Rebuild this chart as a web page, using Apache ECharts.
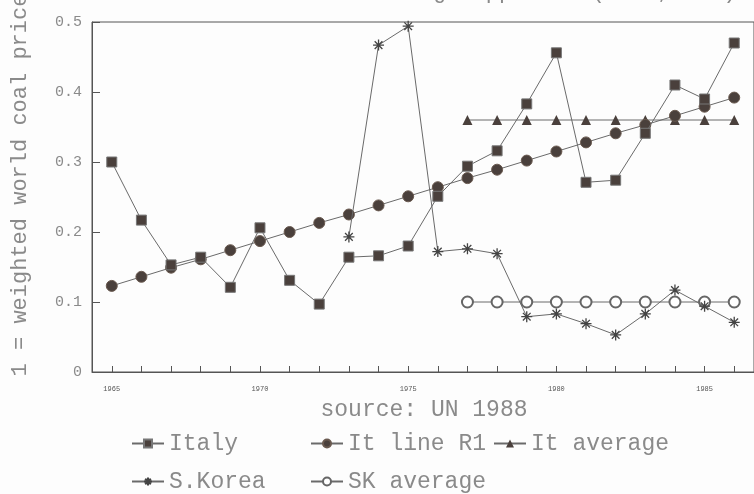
<!DOCTYPE html>
<html>
<head>
<meta charset="utf-8">
<script src="https://cdn.jsdelivr.net/npm/echarts@6/dist/echarts.min.js"></script>
<style>html,body{margin:0;padding:0;background:#fdfdfd;}#c{width:754px;height:494px;}</style>
</head>
<body>
<div id="c"></div>
<script>
const years = [1965,1966,1967,1968,1969,1970,1971,1972,1973,1974,1975,1976,1977,1978,1979,1980,1981,1982,1983,1984,1985,1986];
const italy = [0.300,0.217,0.153,0.164,0.121,0.206,0.131,0.097,0.164,0.166,0.180,0.251,0.294,0.316,0.383,0.456,0.271,0.274,0.341,0.410,0.390,0.470];
const itLineR1 = [0.123,0.136,0.149,0.161,0.174,0.187,0.200,0.213,0.225,0.238,0.251,0.264,0.277,0.289,0.302,0.315,0.328,0.341,0.353,0.366,0.379,0.392];
const avgYears = [1977,1978,1979,1980,1981,1982,1983,1984,1985,1986];
const itAverage = [0.36,0.36,0.36,0.36,0.36,0.36,0.36,0.36,0.36,0.36];
const skYears = [1973,1974,1975,1976,1977,1978,1979,1980,1981,1982,1983,1984,1985,1986];
const sKorea = [0.193,0.467,0.494,0.172,0.176,0.169,0.079,0.083,0.069,0.053,0.083,0.117,0.094,0.071];
const skAverage = [0.10,0.10,0.10,0.10,0.10,0.10,0.10,0.10,0.10,0.10];
const xLabelYears = [1965,1970,1975,1980,1985];
const yTicks = [0,0.1,0.2,0.3,0.4,0.5];
const seriesNames = ['Italy','It line R1','It average','S.Korea','SK average'];
const titleText = 'Standard deviation among suppliers (1965,1986)';
const yName = '1 = weighted world coal price';
const sourceText = 'source: UN 1988';

const pair = (xs, ys) => xs.map((x, i) => [x, ys[i]]);
const FONT = "'Liberation Mono', 'DejaVu Sans Mono', monospace";
const TXT = '#8a8a8a';
const LINE = '#6a6a6a';
const MARK = '#4a403c';
const asterisk = 'path://M0,5L10,5M5,0L5,10M1.5,1.5L8.5,8.5M8.5,1.5L1.5,8.5';

const chart = echarts.init(document.getElementById('c'), null, {renderer: 'canvas'});
const mk = (name, data, symbol, size, itemStyle, z) => ({
  name, type: 'line', data, symbol, symbolSize: size, showSymbol: true,
  lineStyle: {color: LINE, width: 1, type: 'solid'}, itemStyle, z, animation: false
});
const legendPos = [[126, 427], [305, 427], [488, 427], [126, 465], [305, 465]];
chart.setOption({
  backgroundColor: '#fdfdfd',
  animation: false,
  grid: {left: 92, top: 22, width: 670, height: 350, show: true, borderColor: '#555', borderWidth: 1, backgroundColor: 'transparent'},
  xAxis: {
    type: 'value', min: 1964.333, max: 1986.667,
    splitLine: {show: false},
    axisLine: {lineStyle: {color: '#555', width: 1}},
    axisTick: {inside: true, length: 6, lineStyle: {color: '#555'}, customValues: years},
    axisLabel: {customValues: xLabelYears, fontSize: 7, color: '#555', margin: 14, fontFamily: FONT, formatter: v => String(v)}
  },
  yAxis: {
    type: 'value', min: 0, max: 0.5, interval: 0.1,
    splitLine: {show: false},
    axisLine: {show: true, lineStyle: {color: '#555', width: 1}},
    axisTick: {inside: true, length: 8, lineStyle: {color: '#555'}, customValues: yTicks},
    axisLabel: {fontSize: 15, color: TXT, margin: 10, fontFamily: FONT, formatter: v => String(Math.round(v * 10) / 10)}
  },
  legend: seriesNames.map((n, i) => ({
    data: [n], left: legendPos[i][0], top: legendPos[i][1], itemWidth: 32, itemHeight: 10, itemGap: 6,
    textStyle: {fontFamily: FONT, fontSize: 23, color: TXT}, selectedMode: false
  })),
  graphic: [
    {type: 'text', position: [433, -8], style: {text: titleText, font: "22px 'Liberation Mono'", fill: TXT, align: 'center', verticalAlign: 'middle'}},
    {type: 'text', position: [20, 185], rotation: Math.PI / 2, style: {text: yName, font: "22px 'Liberation Mono'", fill: TXT, align: 'center', verticalAlign: 'middle'}},
    {type: 'text', position: [424, 410], style: {text: sourceText, font: "23px 'Liberation Mono'", fill: TXT, align: 'center', verticalAlign: 'middle'}}
  ],
  series: [
    mk(seriesNames[0], pair(years, italy), 'rect', 10, {color: MARK, borderColor: '#777', borderWidth: 1}, 5),
    mk(seriesNames[1], pair(years, itLineR1), 'circle', 11, {color: MARK, borderColor: '#6a5a50', borderWidth: 1}, 4),
    mk(seriesNames[2], pair(avgYears, itAverage), 'triangle', 10, {color: MARK}, 3),
    mk(seriesNames[3], pair(skYears, sKorea), asterisk, 11, {color: 'rgba(0,0,0,0)', borderColor: '#444', borderWidth: 1.3}, 6),
    mk(seriesNames[4], pair(avgYears, skAverage), 'emptyCircle', 11, {color: '#666', borderColor: '#666', borderWidth: 1}, 2)
  ]
});
</script>
</body>
</html>
